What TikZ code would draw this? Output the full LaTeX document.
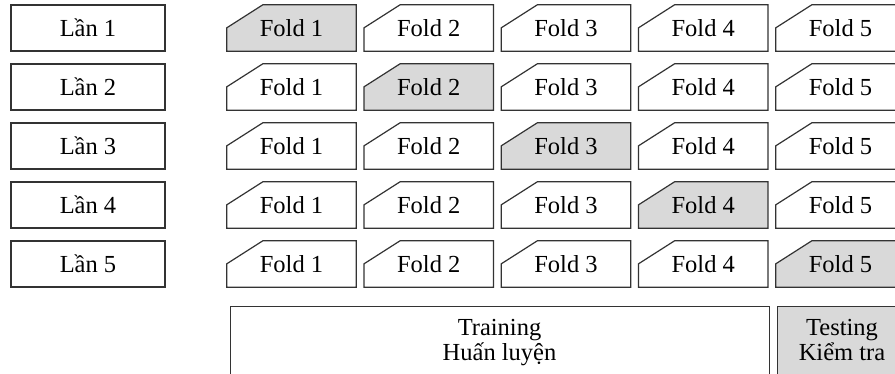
\documentclass[tikz,border=0pt]{standalone}
\usepackage{fontspec}
\setmainfont{Liberation Serif}
\definecolor{foldgray}{HTML}{D9D9D9}
\definecolor{edge}{HTML}{333333}
\begin{document}
\begin{tikzpicture}[x=1pt,y=-1pt,
  txt/.style={font=\fontsize{24.5}{24}\selectfont, text=black},
  lanbox/.style={txt, draw=edge, line width=1.2pt, minimum width=154pt, minimum height=46pt, inner sep=0pt},
  foldtext/.style={txt, minimum width=129pt, minimum height=46pt, inner sep=0pt},
  foldshape/.style={draw=edge, line width=1.2pt, line join=miter},
  bigbox/.style={draw=edge, line width=1.2pt, inner sep=0pt}]
\useasboundingbox (0,0) rectangle (895,374);
\clip (0,0) rectangle (895,374);
\foreach \i in {1,...,5}{
  \node[lanbox] (lan\i) at (88,{28+59*(\i-1)}) {Lần \i};
  \foreach \j in {1,...,5}{
    \ifnum\i=\j \def\fc{foldgray}\else \def\fc{white}\fi
    \node[foldtext] (f\i\j) at ({291.5+137.25*(\j-1)},{28+59*(\i-1)}) {};
    \path[foldshape, fill=\fc] (f\i\j.south west) -- (f\i\j.south east) -- (f\i\j.north east)
      -- ([xshift=36pt]f\i\j.north west) -- ([yshift=-23pt]f\i\j.north west) -- cycle;
    \node[txt] (t\i\j) at (f\i\j.center) {Fold \j};
  }
}
\node[bigbox, minimum width=539pt, minimum height=90pt, anchor=north west] (train) at (230,306) {};
\node[txt, anchor=base] (train1) at (499.5,336) {Training};
\node[txt, anchor=base] (train2) at (499.5,360) {Huấn luyện};
\node[bigbox, fill=foldgray, minimum width=130pt, minimum height=90pt, anchor=north west] (test) at (777,306) {};
\node[txt, anchor=base] (test1) at (842,336) {Testing};
\node[txt, anchor=base] (test2) at (842,360) {Kiểm tra};
\end{tikzpicture}
\end{document}
